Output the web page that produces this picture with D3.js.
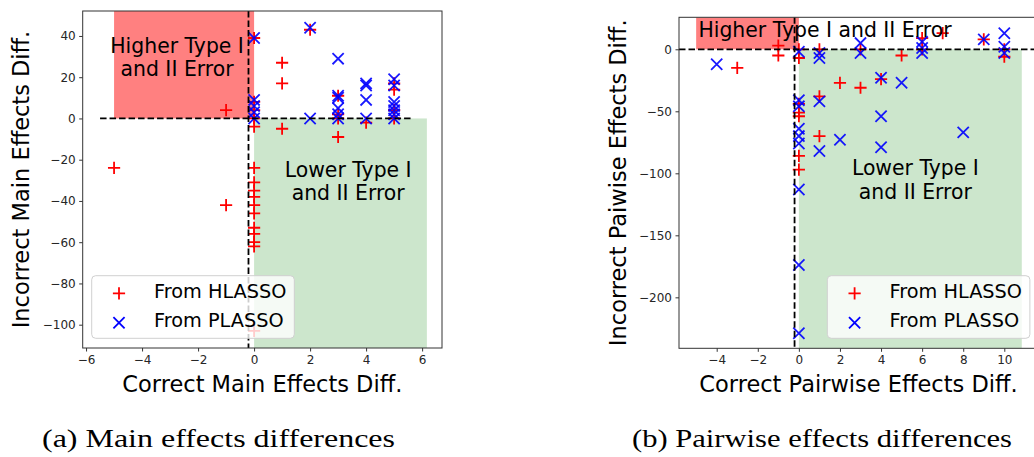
<!DOCTYPE html>
<html>
<head>
<meta charset="utf-8">
<script src="https://cdn.jsdelivr.net/npm/d3@7"></script>
<style>
  body { margin: 0; background: #fff; }
  svg { display: block; }
</style>
</head>
<body>
<svg id="fig" width="1034" height="457"></svg>
<script>
// ---------- data ----------
// (a) main effects: [correct diff, incorrect diff]
const mainHlasso = [
  [-5, -24], [-1, 4], [-1, -42],
  [0, 39], [0, 8], [0, 4], [0, 0], [0, -4], [0, -24], [0, -31], [0, -35], [0, -38],
  [0, -42], [0, -46], [0, -53], [0, -56], [0, -60], [0, -62], [0, -103],
  [1, 27], [1, 17], [1, -5], [2, 43],
  [3, 11], [3, 2], [3, 0], [3, -9], [4, -2],
  [5, 17], [5, 14], [5, 4], [5, 0]
];
const mainPlasso = [
  [0, 39], [0, 9], [0, 6], [0, 3], [0, 0],
  [2, 44], [2, 0],
  [3, 29], [3, 11], [3, 10], [3, 5], [3, 2], [3, 0],
  [4, 17], [4, 16], [4, 9], [4, 0],
  [5, 19], [5, 16], [5, 8], [5, 6], [5, 4], [5, 2], [5, 0]
];
// (b) pairwise effects: [correct diff, incorrect diff]
const pairHlasso = [
  [-3, -15], [-1, 3], [-1, -5],
  [0, 0], [0, -7], [0, -44], [0, -51], [0, -54], [0, -86], [0, -97],
  [1, 0], [1, -38], [1, -70], [2, -27], [3, 0], [3, -31], [4, -24], [5, -5],
  [6, 9], [6, 0], [7, 13], [9, 8], [10, 0], [10, -6]
];
const pairPlasso = [
  [-4, -12],
  [0, -2], [0, -41], [0, -46], [0, -64], [0, -70], [0, -76], [0, -113], [0, -174], [0, -229],
  [1, -3], [1, -7], [1, -42], [1, -82], [2, -73], [3, 5], [3, -3],
  [4, -23], [4, -54], [4, -79], [5, -27], [6, 6], [6, 1], [6, -3],
  [8, -67], [9, 8], [10, 13], [10, 2], [10, -3]
];

// axis limits and ticks
const mainXDomain = [-6.12, 6.71];
const mainYDomain = [-111.3, 52.1];
const mainXTicks = [-6, -4, -2, 0, 2, 4, 6];
const mainYTicks = [-100, -80, -60, -40, -20, 0, 20, 40];
const pairXDomain = [-5.835, 11.64];
const pairYDomain = [-241.1, 25.8];
const pairXTicks = [-4, -2, 0, 2, 4, 6, 8, 10];
const pairYTicks = [-200, -150, -100, -50, 0];

// shaded regions [x0, x1] (red spans y 0..top, green spans bottom..0)
const mainHigherX = [-5, 0];
const mainLowerX = [0, 6.17];
const pairHigherX = [-5, 0];
const pairLowerX = [0, 10.85];

// reference lines
const mainVLine = -0.2;
const mainHLineX = [-5.5, 5.6];
const pairVLine = -0.21;

const seriesLabels = ["From HLASSO", "From PLASSO"];

// ---------- drawing ----------
const svg = d3.select("#fig");
const FONT = "DejaVu Sans, sans-serif";
const RED = "#ff0000", BLUE = "#0000ff";

function plusPath(r) { return `M${-r},0H${r}M0,${-r}V${r}`; }
function crossPath(r) { return `M${-r},${-r}L${r},${r}M${-r},${r}L${r},${-r}`; }

function drawPanel(cfg) {
  const g = svg.append("g");
  const x = d3.scaleLinear().domain(cfg.xDomain).range([cfg.left, cfg.right]);
  const y = d3.scaleLinear().domain(cfg.yDomain).range([cfg.bottom, cfg.top]);
  const yTop = cfg.yDomain[1], yBot = cfg.yDomain[0];

  const clipId = "clip-" + cfg.id;
  svg.append("defs").append("clipPath").attr("id", clipId)
    .append("rect").attr("x", cfg.left).attr("y", cfg.top)
    .attr("width", cfg.right - cfg.left).attr("height", cfg.bottom - cfg.top);

  const plot = g.append("g").attr("clip-path", `url(#${clipId})`);

  // shaded regions
  plot.append("rect")
    .attr("x", x(cfg.higherX[0])).attr("y", y(yTop))
    .attr("width", x(cfg.higherX[1]) - x(cfg.higherX[0]))
    .attr("height", y(0) - y(yTop))
    .attr("fill", "#ff8080");
  plot.append("rect")
    .attr("x", x(cfg.lowerX[0])).attr("y", y(0))
    .attr("width", x(cfg.lowerX[1]) - x(cfg.lowerX[0]))
    .attr("height", y(yBot) - y(0))
    .attr("fill", "#cce6cc");

  // markers
  plot.append("g").selectAll("path").data(cfg.hlasso).join("path")
    .attr("transform", d => `translate(${x(d[0])},${y(d[1])})`)
    .attr("d", plusPath(6.1))
    .attr("stroke", RED).attr("stroke-width", 1.8).attr("fill", "none");
  plot.append("g").selectAll("path").data(cfg.plasso).join("path")
    .attr("transform", d => `translate(${x(d[0])},${y(d[1])})`)
    .attr("d", crossPath(5.6))
    .attr("stroke", BLUE).attr("stroke-width", 1.8).attr("fill", "none")
    .attr("stroke-opacity", 0.9);

  // dashed reference lines
  plot.append("line")
    .attr("x1", x(cfg.hLineX[0])).attr("x2", x(cfg.hLineX[1]))
    .attr("y1", y(0)).attr("y2", y(0))
    .attr("stroke", "#000").attr("stroke-width", 1.8).attr("stroke-dasharray", "6.5,3");
  plot.append("line")
    .attr("x1", x(cfg.vLine)).attr("x2", x(cfg.vLine))
    .attr("y1", y(yTop)).attr("y2", y(yBot))
    .attr("stroke", "#000").attr("stroke-width", 1.8).attr("stroke-dasharray", "6.5,3");

  // region annotations
  cfg.notes.forEach(n => {
    const t = g.append("text")
      .attr("x", x(n.x)).attr("y", y(n.y))
      .attr("text-anchor", "middle")
      .attr("font-family", FONT).attr("font-size", 20.4).attr("fill", "#000");
    n.lines.forEach((s, i) => {
      t.append("tspan").attr("x", x(n.x)).attr("dy", i === 0 ? 0 : 23.5).text(s);
    });
  });

  // axes
  const xAxis = d3.axisBottom(x).tickValues(cfg.xTicks).tickSize(3.5).tickPadding(3.5).tickSizeOuter(0);
  const yAxis = d3.axisLeft(y).tickValues(cfg.yTicks).tickSize(3.5).tickPadding(3.5).tickSizeOuter(0);
  const gx = g.append("g").attr("transform", `translate(0,${cfg.bottom})`).call(xAxis);
  const gy = g.append("g").attr("transform", `translate(${cfg.left},0)`).call(yAxis);
  [gx, gy].forEach(a => {
    a.select(".domain").remove();
    a.selectAll("line").attr("stroke", "#333").attr("stroke-width", 1);
    a.selectAll("text").attr("font-family", FONT).attr("font-size", 12).attr("fill", "#262626");
  });

  // frame
  g.append("rect")
    .attr("x", cfg.left).attr("y", cfg.top)
    .attr("width", cfg.right - cfg.left).attr("height", cfg.bottom - cfg.top)
    .attr("fill", "none").attr("stroke", "#333").attr("stroke-width", 1);

  // axis titles
  g.append("text")
    .attr("x", (cfg.left + cfg.right) / 2).attr("y", 392.3)
    .attr("text-anchor", "middle").attr("font-family", FONT).attr("font-size", 22.5)
    .attr("fill", "#000").text(cfg.xLabel);
  g.append("text")
    .attr("transform", `translate(${cfg.yLabelX},${(cfg.top + cfg.bottom) / 2}) rotate(-90)`)
    .attr("text-anchor", "middle").attr("font-family", FONT).attr("font-size", 22.5)
    .attr("fill", "#000").text(cfg.yLabel);

  // legend
  const lg = g.append("g").attr("transform", `translate(${cfg.legendX},${cfg.legendY})`);
  lg.append("rect").attr("width", 202.6).attr("height", 62.6).attr("rx", 4)
    .attr("fill", "#fff").attr("fill-opacity", 0.8)
    .attr("stroke", "#d0d0d0").attr("stroke-width", 1);
  lg.append("path").attr("transform", "translate(27.3,17.6)").attr("d", plusPath(6.1))
    .attr("stroke", RED).attr("stroke-width", 1.8).attr("fill", "none");
  lg.append("path").attr("transform", "translate(27.3,47)").attr("d", crossPath(5.6))
    .attr("stroke", BLUE).attr("stroke-width", 1.8).attr("fill", "none");
  seriesLabels.forEach((s, i) => {
    lg.append("text").attr("x", 62.3).attr("y", 22.8 + i * 28.5)
      .attr("font-family", FONT).attr("font-size", 19.3).attr("fill", "#000").text(s);
  });

  // caption
  svg.append("text")
    .attr("x", cfg.captionX).attr("y", 447)
    .attr("font-family", "Liberation Serif, serif").attr("font-size", 25)
    .attr("textLength", cfg.captionW).attr("lengthAdjust", "spacingAndGlyphs")
    .attr("fill", "#000").text(cfg.caption);
}

drawPanel({
  id: "main", left: 82.7, right: 442, top: 11, bottom: 348,
  xDomain: mainXDomain, yDomain: mainYDomain, xTicks: mainXTicks, yTicks: mainYTicks,
  hlasso: mainHlasso, plasso: mainPlasso,
  higherX: mainHigherX, lowerX: mainLowerX,
  vLine: mainVLine, hLineX: mainHLineX,
  notes: [
    { x: -2.75, y: 31.8, lines: ["Higher Type I", "and II Error"] },
    { x: 3.36, y: -28.2, lines: ["Lower Type I", "and II Error"] }
  ],
  xLabel: "Correct Main Effects Diff.", yLabel: "Incorrect Main Effects Diff.", yLabelX: 28.5,
  legendX: 91.7, legendY: 275.7,
  caption: "(a) Main effects differences", captionX: 42, captionW: 353
});

drawPanel({
  id: "pair", left: 679, right: 1038, top: 17.3, bottom: 348.3,
  xDomain: pairXDomain, yDomain: pairYDomain, xTicks: pairXTicks, yTicks: pairYTicks,
  hlasso: pairHlasso, plasso: pairPlasso,
  higherX: pairHigherX, lowerX: pairLowerX,
  vLine: pairVLine, hLineX: pairXDomain,
  notes: [
    { x: 1.27, y: 10.2, lines: ["Higher Type I and II Error"] },
    { x: 5.67, y: -101.4, lines: ["Lower Type I", "and II Error"] }
  ],
  xLabel: "Correct Pairwise Effects Diff.", yLabel: "Incorrect Paiwise Effects Diff.", yLabelX: 625.5,
  legendX: 827.3, legendY: 275.7,
  caption: "(b) Pairwise effects differences", captionX: 632, captionW: 380
});
</script>
</body>
</html>
